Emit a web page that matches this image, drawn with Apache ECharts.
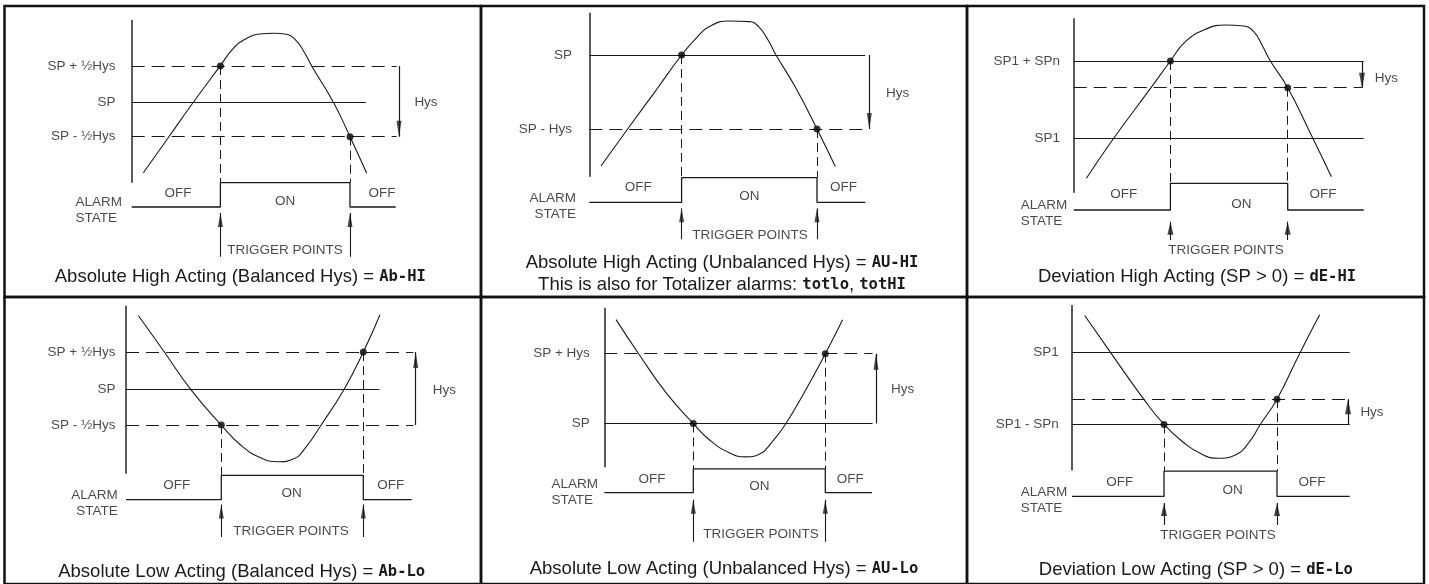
<!DOCTYPE html>
<html>
<head>
<meta charset="utf-8">
<title>Alarm actions</title>
<script src="https://cdn.jsdelivr.net/npm/echarts@6/dist/echarts.min.js"></script>
<style>
  html, body { margin: 0; padding: 0; background: #fff; }
  #chart { width: 1429px; height: 584px; }
</style>
</head>
<body>
<div id="chart"></div>
<script>
// x = time, y = process level; y = 0 is the alarm OFF line of each panel (1 unit = 1px)

// Absolute High Acting (Balanced Hys)
const curveAbHi = [[11.7, 34.3], [36.7, 69.5], [60, 102.5], [88.7, 141.3], [101.7, 158.7], [115, 168.7], [128.3, 173], [141.7, 173.7], [155, 172.7], [163.3, 167.7], [171.7, 156.3], [180, 141], [201.7, 104.7], [218.3, 70.3], [235, 33.7]];
const levelsAbHi = [141, 104.7, 70.3];
const levelNamesAbHi = ['SP + ½Hys', 'SP', 'SP - ½Hys'];
const triggersAbHi = [[88.7, 141], [218.3, 70.3]];
const onAbHi = 24.3;
const hysAbHi = [141, 70.3];

// Absolute High Acting (Unbalanced Hys)
const curveAuHi = [[11.7, 36.3], [38.3, 73.3], [66.7, 112], [92.3, 147.3], [106.7, 164], [120, 175.7], [140, 181.3], [160, 180.7], [169.3, 175.7], [178.3, 163], [186.7, 147.3], [206.7, 114], [227.7, 73.3], [246, 35.7]];
const levelsAuHi = [147.3, 73.3];
const levelNamesAuHi = ['SP', 'SP - Hys'];
const triggersAuHi = [[92.3, 147.3], [227.7, 73.3]];
const onAuHi = 24.7;
const hysAuHi = [147.3, 73.3];

// Deviation High Acting
const curveDeHi = [[12.7, 31.7], [40, 71.7], [77.3, 122.3], [96.7, 149], [111.7, 168.3], [131.7, 180.7], [151.7, 185], [170, 184], [180, 178.3], [188.3, 165], [196.7, 149], [214, 122.3], [236.7, 76.7], [257.7, 33.3]];
const levelsDeHi = [149, 122.3, 71.7];
const levelNamesDeHi = ['SP1 + SPn', '', 'SP1'];
const triggersDeHi = [[96.7, 149], [214, 122.3]];
const onDeHi = 26.7;
const hysDeHi = [149, 122.3];

// Absolute Low Acting (Balanced Hys)
const curveAbLo = [[12.3, 189.3], [37.3, 153.3], [64.7, 113.3], [95.3, 76.7], [114, 56.7], [134, 43.3], [152.3, 39], [167.3, 41.7], [180.7, 55], [194, 75], [218, 113.3], [237.3, 151.7], [254, 190]];
const levelsAbLo = [151.7, 113.3, 76.7];
const levelNamesAbLo = ['SP + ½Hys', 'SP', 'SP - ½Hys'];
const triggersAbLo = [[95.3, 76.7], [237.3, 151.7]];
const onAbLo = 25;
const hysAbLo = [76.7, 151.7];

// Absolute Low Acting (Unbalanced Hys)
const curveAuLo = [[11.7, 177.7], [34.3, 142.7], [61.7, 102.7], [89, 71], [105, 54.3], [125, 41], [141.7, 36.7], [155, 39.3], [168.3, 52.7], [181.7, 71], [201.7, 106], [221, 142.7], [238.3, 177.7]];
const levelsAuLo = [142.7, 71];
const levelNamesAuLo = ['SP + Hys', 'SP'];
const triggersAuLo = [[89, 71], [221, 142.7]];
const onAuLo = 24.3;
const hysAuLo = [71, 142.7];

// Deviation Low Acting
const curveDeLo = [[12.7, 186], [38.3, 148.3], [71.7, 100], [92, 74], [110, 56.7], [130, 43.3], [146.7, 39.3], [163.3, 42.7], [176.7, 55], [188.3, 74], [205, 100], [228.3, 148.3], [247.7, 186.7]];
const levelsDeLo = [148.3, 100, 74];
const levelNamesDeLo = ['SP1', '', 'SP1 - SPn'];
const triggersDeLo = [[92, 74], [205, 100]];
const onDeLo = 26;
const hysDeLo = [74, 100];

const captions = [
  'Absolute High Acting (Balanced Hys) = {seg|Ab-HI}',
  'Absolute High Acting (Unbalanced Hys) = {seg|AU-HI}\nThis is also for Totalizer alarms: {seg|totlo}, {seg|totHI}',
  'Deviation High Acting (SP > 0) = {seg|dE-HI}',
  'Absolute Low Acting (Balanced Hys) = {seg|Ab-Lo}',
  'Absolute Low Acting (Unbalanced Hys) = {seg|AU-Lo}',
  'Deviation Low Acting (SP > 0) = {seg|dE-Lo}'
];

// panel cells [left, top, right, bottom] in px
const cells = [
  [4.5, 6, 481, 297], [481, 6, 967, 297], [967, 6, 1424, 297],
  [4.5, 297, 481, 592], [481, 297, 967, 592], [967, 297, 1424, 592]
];
const captionPos = [[240.3, 277], [722, 274.2], [1197, 277.3], [241.7, 572], [724, 569.3], [1195.8, 570.3]];

// layout of each panel (origin in px, text anchors in panel units)
const layouts = [
  { x0: 131.7, y0: 207, dashed: [1, 0, 1], ends: [265, 234, 265], axis: [24.3, 187], hysX: 267.3, hysText: [294.3, 104.7],
    alarmEnd: 264, trigArrow: [-49.7, -6], trigText: [153.3, -43], offOn: [[46.3, 14], [153.3, 6], [250.3, 14]],
    alarmText: [-56.7, -3, 'right'], labelEdge: -15.7, bold: false },
  { x0: 589.3, y0: 202.3, dashed: [0, 1], ends: [276, 280], axis: [25.6, 189.6], hysX: 280, hysText: [308.3, 109],
    alarmEnd: 276, trigArrow: [-37, -6], trigText: [160.7, -32.7], offOn: [[49, 14.7], [160, 6.3], [254.3, 14.7]],
    alarmText: [-12.8, -3.8, 'left'], labelEdge: -16.7, bold: false },
  { x0: 1073.7, y0: 210, dashed: [0, 1, 0], ends: [290, 288.3, 290], axis: [17.3, 191.7], hysX: 288.3, hysText: [312.7, 131.3],
    alarmEnd: 290, trigArrow: [-30, -11.7], trigText: [152.3, -40.7], offOn: [[50, 15.7], [167.7, 6], [249.3, 15.7]],
    alarmText: [-53.4, -3.3, 'right'], labelEdge: -13.3, bold: true },
  { x0: 126, y0: 505.3, dashed: [1, 0, 1], ends: [287.3, 253.3, 287.3], axis: [26.6, 199.3], hysX: 289.7, hysText: [318.3, 112.3],
    alarmEnd: 285.7, trigArrow: [-38.3, -5], trigText: [165, -32.7], offOn: [[50.7, 14.3], [165.7, 6.7], [264.7, 14.3]],
    alarmText: [-7.7, -4.2, 'left'], labelEdge: -10, bold: false },
  { x0: 604.3, y0: 498, dashed: [1, 0], ends: [268.3, 268.3], axis: [26, 190], hysX: 271.7, hysText: [298.3, 106],
    alarmEnd: 267.7, trigArrow: [-50.7, -7.3], trigText: [156.7, -43.3], offOn: [[47.7, 13.7], [155, 6], [246, 13.7]],
    alarmText: [-53.3, 0.7, 'right'], labelEdge: -14, bold: false },
  { x0: 1072, y0: 502, dashed: [0, 1, 0], ends: [277.7, 276, 277.7], axis: [26.7, 196.7], hysX: 276, hysText: [300, 86.7],
    alarmEnd: 277.7, trigArrow: [-29.3, -6.7], trigText: [146, -40], offOn: [[47.7, 15], [160.7, 6.7], [240, 15]],
    alarmText: [-51.7, -3.7, 'right'], labelEdge: -12.7, bold: true }
];

const panels = [
  { curve: curveAbHi, levels: levelsAbHi, names: levelNamesAbHi, triggers: triggersAbHi, on: onAbHi, hys: hysAbHi },
  { curve: curveAuHi, levels: levelsAuHi, names: levelNamesAuHi, triggers: triggersAuHi, on: onAuHi, hys: hysAuHi },
  { curve: curveDeHi, levels: levelsDeHi, names: levelNamesDeHi, triggers: triggersDeHi, on: onDeHi, hys: hysDeHi },
  { curve: curveAbLo, levels: levelsAbLo, names: levelNamesAbLo, triggers: triggersAbLo, on: onAbLo, hys: hysAbLo },
  { curve: curveAuLo, levels: levelsAuLo, names: levelNamesAuLo, triggers: triggersAuLo, on: onAuLo, hys: hysAuLo },
  { curve: curveDeLo, levels: levelsDeLo, names: levelNamesDeLo, triggers: triggersDeLo, on: onDeLo, hys: hysDeLo }
];

const FONT = "'Liberation Sans', Arial, sans-serif";
const INK = '#1a1a1a';

let grids = [], xAxes = [], yAxes = [], series = [], titles = [];

function segs(k, list, style) {
  return {
    type: 'lines', coordinateSystem: 'cartesian2d', xAxisIndex: k, yAxisIndex: k,
    silent: true, symbol: 'none', polyline: false,
    lineStyle: Object.assign({ color: INK, width: 1, opacity: 1, curveness: 0 }, style),
    data: list.map(function (c) { return { coords: c }; })
  };
}

function texts(k, list, labelOpt) {
  return {
    type: 'scatter', xAxisIndex: k, yAxisIndex: k, silent: true,
    symbolSize: 1, itemStyle: { color: 'rgba(0,0,0,0)' },
    data: list.map(function (t) { return { name: t[0], value: [t[1], t[2]] }; }),
    label: Object.assign({ show: true, formatter: '{b}', color: INK, fontFamily: FONT, fontSize: 13.5 }, labelOpt)
  };
}

function heads(k, pts, up, w, h) {
  return {
    type: 'scatter', xAxisIndex: k, yAxisIndex: k, silent: true,
    symbol: 'triangle', symbolSize: [w, h], symbolRotate: up ? 0 : 180,
    symbolOffset: [0, up ? h / 2 : -h / 2],
    itemStyle: { color: INK }, data: pts
  };
}

panels.forEach(function (p, k) {
  const L = layouts[k], c = cells[k];
  grids.push({
    left: c[0], top: c[1], width: c[2] - c[0], height: c[3] - c[1],
    show: true, borderColor: '#111', borderWidth: 2.5, backgroundColor: 'transparent'
  });
  xAxes.push({ gridIndex: k, type: 'value', min: c[0] - L.x0, max: c[2] - L.x0, show: false });
  yAxes.push({ gridIndex: k, type: 'value', min: L.y0 - c[3], max: L.y0 - c[1], show: false });

  const t1 = p.triggers[0][0], t2 = p.triggers[1][0];

  // vertical process axis
  series.push(segs(k, [[[0, L.axis[0]], [0, L.axis[1]]]], { color: '#333', width: 1.6 }));

  // set point levels
  const solid = [], dashed = [];
  p.levels.forEach(function (v, i) {
    (L.dashed[i] ? dashed : solid).push([[0, v], [L.ends[i], v]]);
  });
  series.push(segs(k, solid, {}));
  series.push(segs(k, dashed, { type: [13, 7] }));

  // dashed drop lines from trigger points to alarm state
  series.push(segs(k, p.triggers.map(function (t) { return [[t[0], t[1]], [t[0], p.on]]; }), { type: [9, 5] }));

  // process curve
  series.push({
    type: 'line', xAxisIndex: k, yAxisIndex: k, silent: true, smooth: 0.5,
    symbol: 'none', lineStyle: { color: INK, width: 1.1 }, data: p.curve
  });

  // alarm state
  series.push({
    type: 'line', xAxisIndex: k, yAxisIndex: k, silent: true, symbol: 'none',
    lineStyle: { color: INK, width: 1.3 },
    data: [[0, 0], [t1, 0], [t1, p.on], [t2, p.on], [t2, 0], [L.alarmEnd, 0]]
  });

  // trigger points
  series.push({
    type: 'scatter', xAxisIndex: k, yAxisIndex: k, silent: true, symbolSize: 7,
    itemStyle: { color: '#000' }, data: p.triggers
  });

  // hysteresis arrow
  const hysUp = p.hys[1] > p.hys[0];
  series.push(segs(k, [[[L.hysX, p.hys[0]], [L.hysX, p.hys[1]]]], { width: 1.2 }));
  series.push(heads(k, [[L.hysX, p.hys[1]]], hysUp, L.bold ? 6 : 5, L.bold ? 15 : 16));

  // trigger arrows
  series.push(segs(k, [[[t1, L.trigArrow[0]], [t1, L.trigArrow[1]]], [[t2, L.trigArrow[0]], [t2, L.trigArrow[1]]]], { width: 1.1 }));
  series.push(heads(k, [[t1, L.trigArrow[1]], [t2, L.trigArrow[1]]], true, L.bold ? 6 : 5, L.bold ? 13 : 14));

  // texts
  series.push(texts(k, p.levels.map(function (v, i) { return [p.names[i], L.labelEdge, v]; }), { position: 'left', distance: 0 }));
  series.push(texts(k, [
    ['Hys', L.hysText[0], L.hysText[1]],
    ['OFF', L.offOn[0][0], L.offOn[0][1]],
    ['ON', L.offOn[1][0], L.offOn[1][1]],
    ['OFF', L.offOn[2][0], L.offOn[2][1]],
    ['TRIGGER POINTS', L.trigText[0], L.trigText[1]]
  ], { position: 'inside' }));
  series.push(texts(k, [['ALARM\nSTATE', L.alarmText[0], L.alarmText[1]]], { position: L.alarmText[2], distance: 0, lineHeight: 16 }));

  titles.push({
    text: captions[k], left: captionPos[k][0], top: captionPos[k][1],
    textAlign: 'center', textVerticalAlign: 'middle', padding: 0,
    textStyle: {
      fontFamily: FONT, fontSize: 18.5, fontWeight: 'normal', color: INK, lineHeight: 21.7,
      rich: { seg: { fontFamily: "'DejaVu Sans Mono', monospace", fontWeight: 'bold', fontSize: 15.5, color: INK } }
    }
  });
});

const chart = echarts.init(document.getElementById('chart'));
chart.setOption({
  animation: false,
  backgroundColor: '#fff',
  title: titles,
  grid: grids,
  xAxis: xAxes,
  yAxis: yAxes,
  series: series
});
</script>
</body>
</html>
